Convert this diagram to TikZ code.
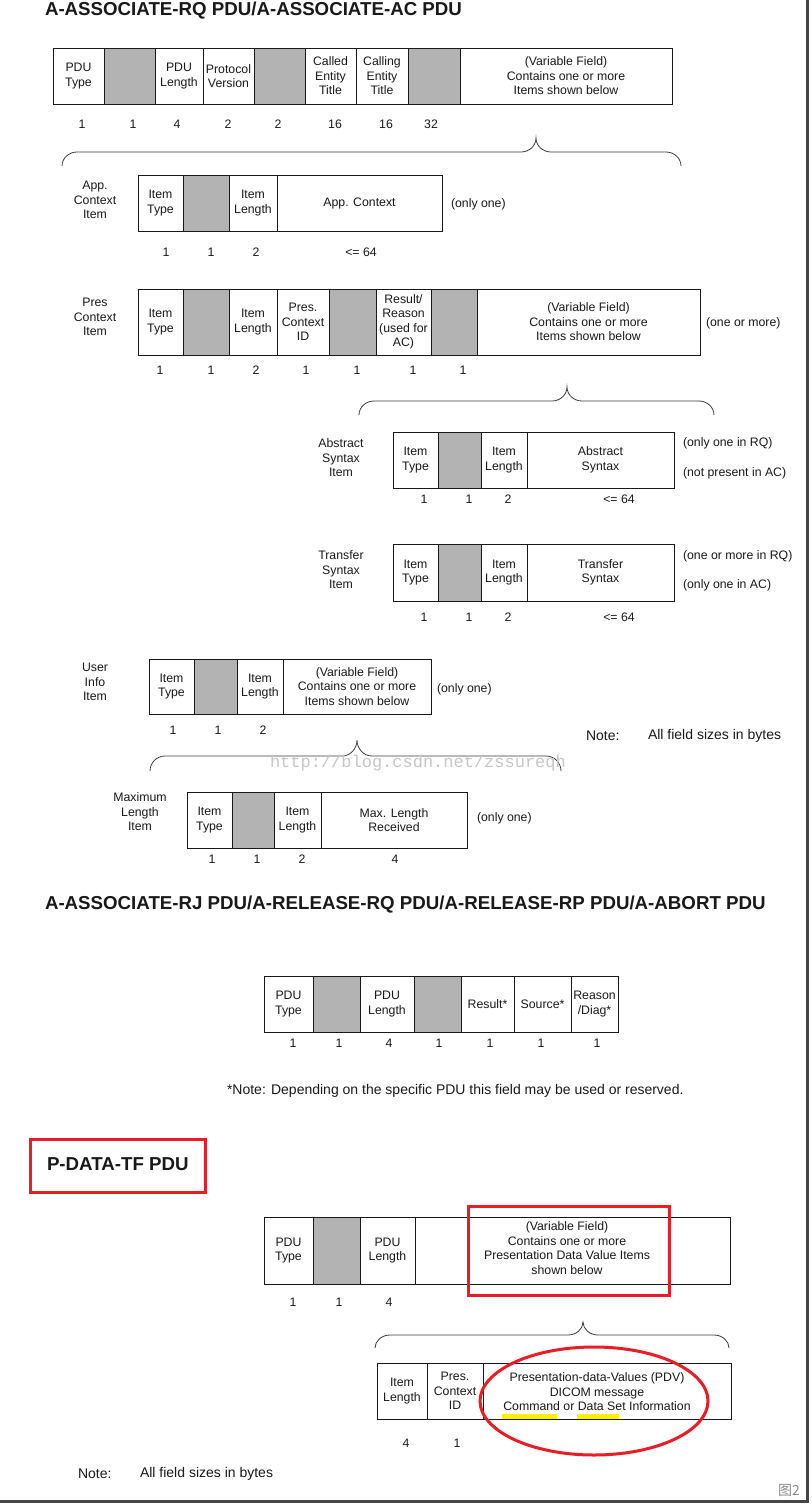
\documentclass[tikz,border=0pt]{standalone}
\usepackage{fontspec}
\setmainfont{Liberation Sans}
\newfontfamily\cjkfont{Noto Sans CJK SC}
\newfontfamily\wmfont{Liberation Mono}
\definecolor{shade}{RGB}{179,179,179}
\definecolor{pred}{RGB}{237,28,36}
\definecolor{hyel}{RGB}{255,240,0}
\definecolor{ink}{RGB}{25,25,25}
\definecolor{frame}{RGB}{70,70,70}
\newcommand\bodyfs{\fontsize{12.3}{14.5}\selectfont}
\newcommand\notefs{\fontsize{14}{16}\selectfont}
\newcommand\titlefs{\fontsize{18.7}{22}\bfseries\selectfont}
\newcommand\pf[5][]{%
  \node[fld,#1,minimum width={(#4-#3)*1pt},minimum height={(\yb-\yt)*1pt}] (#2) at ({(#3+#4)/2},{(\yt+\yb)/2}) {#5};}
% brace: xL, xTip, xR, yTip, yMid, yEnd
\newcommand\pbrace[6]{%
  \draw[brc] (#1,#6) .. controls (#1,{#6-0.55*(#6-#5)}) and ({#1+0.45*15},#5) .. ({#1+15},#5) -- ({#2-15},#5)
    .. controls ({#2-0.45*15},#5) and (#2,{#5-0.45*(#5-#4)}) .. (#2,#4)
    .. controls (#2,{#5-0.45*(#5-#4)}) and ({#2+0.45*15},#5) .. ({#2+15},#5)
    -- ({#3-15},#5) .. controls ({#3-0.45*15},#5) and (#3,{#6-0.55*(#6-#5)}) .. (#3,#6);}
\begin{document}
\begin{tikzpicture}[x=1pt,y=-1pt,
  every node/.style={font=\bodyfs,inner sep=0pt,outer sep=0pt,text=ink},
  fld/.style={draw=ink,line width=0.9pt,align=center},
  gry/.style={fill=shade},
  lbl/.style={align=center},
  side/.style={anchor=west},
  note/.style={anchor=west,font=\notefs},
  ttl/.style={anchor=west,font=\titlefs},
  brc/.style={draw=ink!85,line width=0.8pt},
  redmark/.style={draw=pred,line width=3pt}]
\useasboundingbox (0,0) rectangle (811,1504);
\fill[white] (0,0) rectangle (811,1504);

% ---------- Section 1 ----------
\node[ttl] (t1) at (45,11) {A-ASSOCIATE-RQ PDU/A-ASSOCIATE-AC PDU};

\def\yt{48}\def\yb{104}
\pf{a1}{53}{104}{PDU\\Type}
\pf[gry]{a2}{104}{155}{}
\pf{a3}{155}{203}{PDU\\Length}
\pf{a4}{203}{254}{Protocol\\Version}
\pf[gry]{a5}{254}{305}{}
\pf{a6}{305}{356}{Called\\Entity\\Title}
\pf{a7}{356}{408}{Calling\\Entity\\Title}
\pf[gry]{a8}{408}{460}{}
\pf{a9}{460}{672}{(Variable Field)\\Contains one or more\\Items shown below}
\foreach \x/\t [count=\i] in {82/1,133/1,177/4,228/2,278/2,335/16,386/16,431/32}
  \node (an\i) at (\x,124) {\t};

\pbrace{62}{536}{681}{138}{152}{166}

% App. Context Item
\node[lbl] (bl) at (95,200) {App.\\Context\\Item};
\def\yt{175}\def\yb{231}
\pf{b1}{138}{183}{Item\\Type}
\pf[gry]{b2}{183}{229}{}
\pf{b3}{229}{277}{Item\\Length}
\pf{b4}{277}{442}{App. Context}
\node[side] (bo) at (451,204) {(only one)};
\foreach \x/\t [count=\i] in {166/1,211/1,256/2,361/{<= 64}}
  \node (bn\i) at (\x,252) {\t};

% Pres Context Item
\node[lbl] (cl) at (95,317) {Pres\\Context\\Item};
\def\yt{289}\def\yb{355}
\pf{c1}{138}{183}{Item\\Type}
\pf[gry]{c2}{183}{229}{}
\pf{c3}{229}{277}{Item\\Length}
\pf{c4}{277}{329}{Pres.\\Context\\ID}
\pf[gry]{c5}{329}{376}{}
\pf{c6}{376}{431}{Result/\\Reason\\(used for\\AC)}
\pf[gry]{c7}{431}{477}{}
\pf{c8}{477}{700}{(Variable Field)\\Contains one or more\\Items shown below}
\node[side] (co) at (706,323) {(one or more)};
\foreach \x/\t [count=\i] in {160/1,211/1,256/2,306/1,357/1,413/1,463/1}
  \node (cn\i) at (\x,370) {\t};

\pbrace{359}{567}{714}{387}{401}{415}

% Abstract Syntax Item
\node[lbl] (dl) at (341,458) {Abstract\\Syntax\\Item};
\def\yt{432}\def\yb{488}
\pf{d1}{393}{438}{Item\\Type}
\pf[gry]{d2}{438}{481}{}
\pf{d3}{481}{527}{Item\\Length}
\pf{d4}{527}{674}{Abstract\\Syntax}
\node[side] (do1) at (683,443) {(only one in RQ)};
\node[side] (do2) at (683,473) {(not present in AC)};
\foreach \x/\t [count=\i] in {424/1,469/1,508/2,619/{<= 64}}
  \node (dn\i) at (\x,499) {\t};

% Transfer Syntax Item
\node[lbl] (el) at (341,570) {Transfer\\Syntax\\Item};
\def\yt{544}\def\yb{601}
\pf{e1}{393}{438}{Item\\Type}
\pf[gry]{e2}{438}{481}{}
\pf{e3}{481}{527}{Item\\Length}
\pf{e4}{527}{674}{Transfer\\Syntax}
\node[side] (eo1) at (683,556) {(one or more in RQ)};
\node[side] (eo2) at (683,585) {(only one in AC)};
\foreach \x/\t [count=\i] in {424/1,469/1,508/2,619/{<= 64}}
  \node (en\i) at (\x,617) {\t};

% User Info Item
\node[lbl] (fl) at (95,682) {User\\Info\\Item};
\def\yt{659}\def\yb{714}
\pf{f1}{149}{194}{Item\\Type}
\pf[gry]{f2}{194}{237}{}
\pf{f3}{237}{283}{Item\\Length}
\pf{f4}{283}{431}{(Variable Field)\\Contains one or more\\Items shown below}
\node[side] (fo) at (437,689) {(only one)};
\foreach \x/\t [count=\i] in {173/1,218/1,263/2}
  \node (fn\i) at (\x,730) {\t};

\node[note] (nt1) at (586,736) {Note:};
\node[note] (nt2) at (648,736) {All field sizes in bytes};

\pbrace{150}{357}{561}{740}{756}{771}
\node[font=\wmfont\fontsize{17}{20}\selectfont,text=black!22,anchor=west] (wm) at (270,763) {http://blog.csdn.net/zssureqh};

% Maximum Length Item
\node[lbl] (gl) at (140,812) {Maximum\\Length\\Item};
\def\yt{792}\def\yb{848}
\pf{g1}{187}{232}{Item\\Type}
\pf[gry]{g2}{232}{274}{}
\pf{g3}{274}{321}{Item\\Length}
\pf{g4}{321}{467}{Max. Length\\Received}
\node[side] (go) at (477,818) {(only one)};
\foreach \x/\t [count=\i] in {212/1,257/1,302/2,395/4}
  \node (gn\i) at (\x,859) {\t};

% ---------- Section 2 ----------
\node[ttl] (t2) at (45,905) {A-ASSOCIATE-RJ PDU/A-RELEASE-RQ PDU/A-RELEASE-RP PDU/A-ABORT PDU};
\def\yt{976}\def\yb{1032}
\pf{h1}{264}{313}{PDU\\Type}
\pf[gry]{h2}{313}{360}{}
\pf{h3}{360}{414}{PDU\\Length}
\pf[gry]{h4}{414}{461}{}
\pf{h5}{461}{514}{Result*}
\pf{h6}{514}{571}{Source*}
\pf{h7}{571}{618}{Reason\\/Diag*}
\foreach \x/\t [count=\i] in {293/1,339/1,389/4,439/1,490/1,541/1,597/1}
  \node (hn\i) at (\x,1043) {\t};
\node[note] (sn) at (227,1091) {*Note: Depending on the specific PDU this field may be used or reserved.};

% ---------- Section 3 ----------
\node[ttl] (t3) at (47,1164) {P-DATA-TF PDU};
\draw[redmark] (30,1139) rectangle (205,1192);

\def\yt{1217}\def\yb{1284}
\pf{i1}{264}{313}{PDU\\Type}
\pf[gry]{i2}{313}{360}{}
\pf{i3}{360}{415}{PDU\\Length}
\pf{i4}{415}{730}{}
\node[lbl] (i4t) at (567,1248) {(Variable Field)\\Contains one or more\\Presentation Data Value Items\\shown below};
\foreach \x/\t [count=\i] in {293/1,339/1,389/4}
  \node (in\i) at (\x,1302) {\t};
\draw[redmark] (468,1206) rectangle (669,1295);

\pbrace{375}{583}{729}{1322}{1335}{1348}

\draw[hyel,line width=5pt] (502,1416) -- (557,1416);
\draw[hyel,line width=5pt] (577,1416) -- (619,1416);
\def\yt{1363}\def\yb{1419}
\pf{j1}{377}{427}{Item\\Length}
\pf{j2}{427}{483}{Pres.\\Context\\ID}
\pf{j3}{483}{731}{}
\node[lbl] (j3t) at (597,1392) {Presentation-data-Values (PDV)\\DICOM message\\Command or Data Set Information};
\foreach \x/\t [count=\i] in {406/4,457/1}
  \node (jn\i) at (\x,1443) {\t};
\draw[redmark] (594,1401) ellipse [x radius=114, y radius=54];

\node[note] (bn1) at (78,1474) {Note:};
\node[note] (bn2) at (140,1474) {All field sizes in bytes};

\node[font=\cjkfont\fontsize{14}{16}\selectfont,text=black!45] (fig) at (789,1490) {图2};

% page frame
\draw[frame,line width=3pt] (807.5,0) -- (807.5,1501.5) -- (0,1501.5);
\end{tikzpicture}
\end{document}
